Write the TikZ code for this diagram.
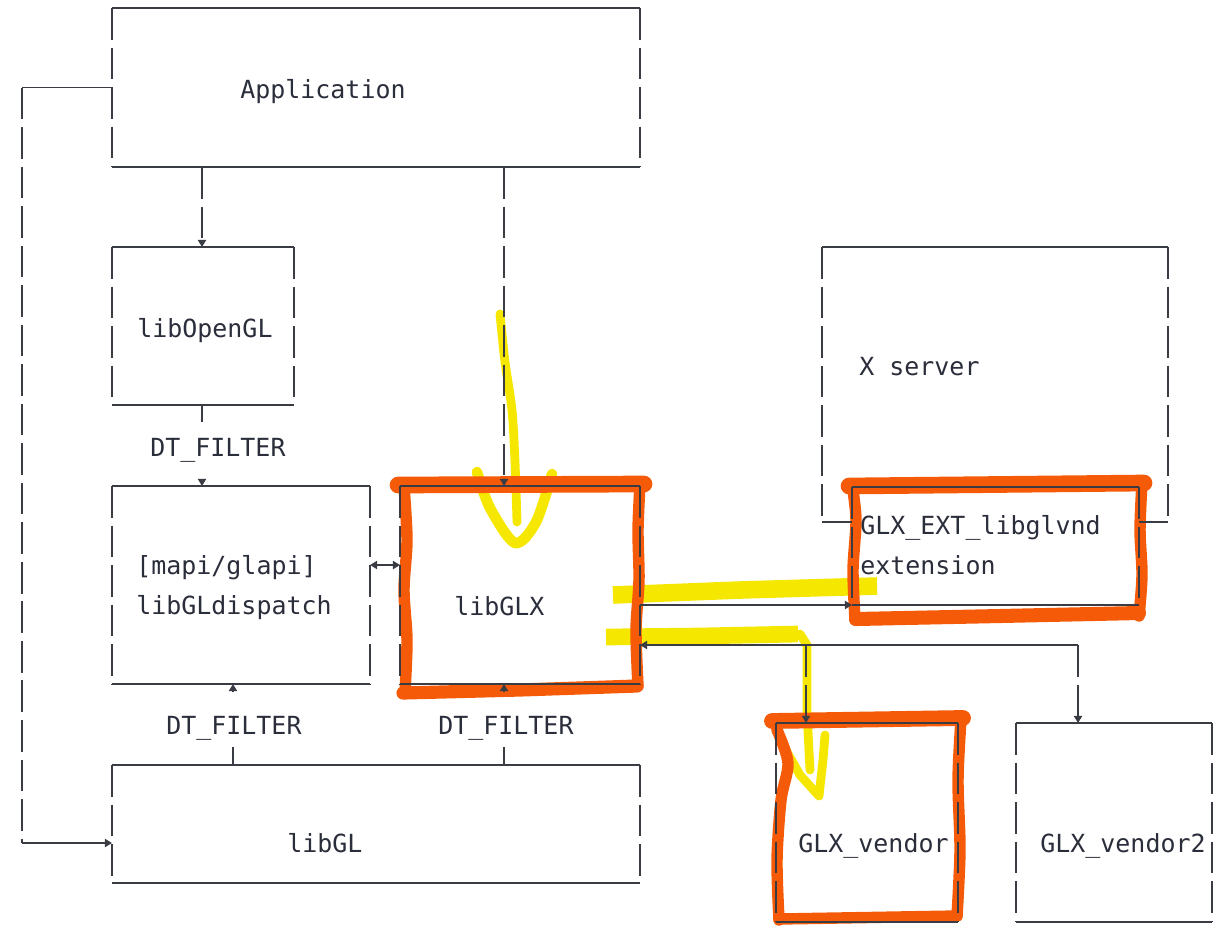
\documentclass[tikz,border=0pt]{standalone}
\usepackage{fontspec}
\usetikzlibrary{arrows.meta,fit}
\newfontfamily\diagfont{DejaVu Sans Mono}
\definecolor{linegray}{RGB}{58,60,68}
\definecolor{txtgray}{RGB}{42,45,58}
\definecolor{markorange}{RGB}{244,90,8}
\definecolor{markyellow}{RGB}{246,231,0}
\tikzset{
  hline/.style={draw=linegray, line width=0.9pt},
  vline/.style={draw=linegray, line width=0.9pt, dash pattern=on 18pt off 4.5pt},
  box/.style={inner sep=0pt, outer sep=0pt,
    append after command={
      (\tikzlastnode.north west) edge[hline] (\tikzlastnode.north east)
      (\tikzlastnode.south west) edge[hline] (\tikzlastnode.south east)
      (\tikzlastnode.north west) edge[vline] (\tikzlastnode.south west)
      (\tikzlastnode.north east) edge[vline] (\tikzlastnode.south east)}},
  openbox/.style={inner sep=0pt, outer sep=0pt,
    append after command={
      (\tikzlastnode.north west) edge[hline] (\tikzlastnode.north east)
      (\tikzlastnode.north west) edge[vline] (\tikzlastnode.south west)
      (\tikzlastnode.north east) edge[vline] (\tikzlastnode.south east)}},
  lbl/.style={font=\diagfont\fontsize{14.2}{17}\selectfont, text=txtgray,
    inner sep=0pt, anchor=base west},
  orangepen/.style={draw=markorange, line width=6.5pt, line cap=round, line join=round},
  yellowpen/.style={draw=markyellow, line width=6pt, line cap=round, line join=round},
}
\begin{document}
\begin{tikzpicture}[x=0.02cm, y=-0.02cm, >={Triangle[width=4.6pt,length=4pt]}]
    \useasboundingbox (0,0) rectangle (1222,930);

    % hand-drawn marks, under the diagram
    \draw[yellowpen, line width=5pt] plot[smooth] coordinates {(500,314) (505,362) (512,410) (515,462) (517,522)};
    \draw[yellowpen] plot[smooth] coordinates {(477,472) (490,508) (515,543) (536,522) (552,474)};
    \draw[yellowpen, line width=10pt, line cap=butt] (613,595) -- (740,590) -- (877,586);
    \draw[yellowpen, line width=9.5pt, line cap=butt] (606,637) -- (700,636) -- (798,634);
    \draw[yellowpen, line width=5pt] (800,634) -- (807,645) -- (807,712) -- (810,770);
    \draw[yellowpen, line width=5pt] (783,745) -- (800,775) -- (819,796) -- (823,760) -- (825,735);

    \draw[orangepen] plot[smooth] coordinates {(640,484) (638,530) (639,580) (636,630) (638,686)};
    \draw[orangepen] plot[smooth] coordinates {(405,692) (407,640) (404,590) (407,540) (404,486)};
    \draw[orangepen, line width=9.5pt] (398,485) -- (644,484);
    \draw[orangepen, line width=7.5pt] (403,693) -- (520,690) -- (637,686);
    \draw[orangepen] plot[smooth] coordinates {(1142,482) (1140,530) (1142,575) (1139,616)};
    \draw[orangepen] plot[smooth] coordinates {(855,620) (853,570) (856,520) (852,484)};
    \draw[orangepen, line width=9.5pt] (849,486) -- (1144,483);
    \draw[orangepen, line width=8pt] (856,619) -- (1000,616) -- (1139,613);
    \draw[orangepen] plot[smooth] coordinates {(961,719) (958,780) (960,850) (957,916)};
    \draw[orangepen] plot[smooth] coordinates {(779,920) (777,860) (781,800) (788,763) (777,730)};
    \draw[orangepen, line width=9pt] (772,721) -- (963,718);
    \draw[orangepen, line width=6.5pt] (779,919) -- (957,916);

    % boxes
    \node[box, fit={(112,8) (640,167)}] (app) {};
    \node[box, fit={(112,247) (294,405)}] (ogl) {};
    \node[box, fit={(112,486) (370,684)}] (disp) {};
    \node[box, fit={(400,486) (640,684)}] (glx) {};
    \node[box, fit={(112,765) (640,883)}] (gl) {};
    \node[openbox, fit={(822,247) (1168,522)}] (xsrv) {};
    \node[box, fit={(852,487) (1139,605)}] (ext) {};
    \node[box, fit={(776,723) (958,922)}] (vnd) {};
    \node[box, fit={(1016,723) (1212,922)}] (vnd2) {};

    \node[lbl] (app-t) at (240,98) {Application};
    \node[lbl] (ogl-t) at (137,337) {libOpenGL};
    \node[lbl] (flt1) at (150,456) {DT\_FILTER};
    \node[lbl] (disp-t1) at (136,574) {[mapi/glapi]};
    \node[lbl] (disp-t2) at (136,614) {libGLdispatch};
    \node[lbl] (glx-t) at (454,615) {libGLX};
    \node[lbl] (flt2) at (166,734) {DT\_FILTER};
    \node[lbl] (flt3) at (438,734) {DT\_FILTER};
    \node[lbl] (gl-t) at (287,852) {libGL};
    \node[lbl] (xsrv-t) at (859,375) {X server};
    \node[lbl] (ext-t1) at (860,534) {GLX\_EXT\_libglvnd};
    \node[lbl] (ext-t2) at (860,574) {extension};
    \node[lbl] (vnd-t) at (798,852) {GLX\_vendor};
    \node[lbl] (vnd2-t) at (1040,852) {GLX\_vendor2};

    \coordinate (colA) at (202,0);
    \coordinate (colB) at (504,0);
    \coordinate (colC) at (233,0);
    \coordinate (colV1) at (806,0);
    \coordinate (colV2) at (1078,0);
    \coordinate (rowD) at (0,565);
    \coordinate (bus) at (0,645);
    \coordinate (loop) at (22,843);

    % connectors
    \draw[hline] (app.west) -- (app.west -| loop);
    \draw[vline] (app.west -| loop) -- (loop);
    \draw[hline, ->] (loop) -- (loop -| gl.west);
    \draw[vline, ->] (app.south -| colA) -- (ogl.north -| colA);
    \draw[vline, ->] (app.south -| colB) -- (glx.north -| colB);
    \draw[hline, shorten >=1.28cm] (ogl.south -| colA) -- (disp.north -| colA);
    \draw[hline, ->, shorten <=1.48cm] (ogl.south -| colA) -- (disp.north -| colA);
    \draw[hline, shorten >=1.26cm] (gl.north -| colC) -- (disp.south -| colC);
    \draw[hline, ->, shorten <=1.48cm] (gl.north -| colC) -- (disp.south -| colC);
    \draw[hline, shorten >=1.26cm] (gl.north -| colB) -- (glx.south -| colB);
    \draw[hline, ->, shorten <=1.48cm] (gl.north -| colB) -- (glx.south -| colB);
    \draw[hline, <->] (disp.east |- rowD) -- (glx.west |- rowD);
    \draw[hline, ->] (glx.east |- ext.south) -- (ext.south west);
    \draw[hline] (xsrv.south west) -- (xsrv.south west -| ext.west);
    \draw[hline] (xsrv.south east) -- (xsrv.south east -| ext.east);
    \draw[hline, ->] (colV2 |- bus) -- (glx.east |- bus);
    \draw[vline, ->] (colV1 |- bus) -- (vnd.north -| colV1);
    \draw[vline, ->] (colV2 |- bus) -- (vnd2.north -| colV2);
\end{tikzpicture}
\end{document}
